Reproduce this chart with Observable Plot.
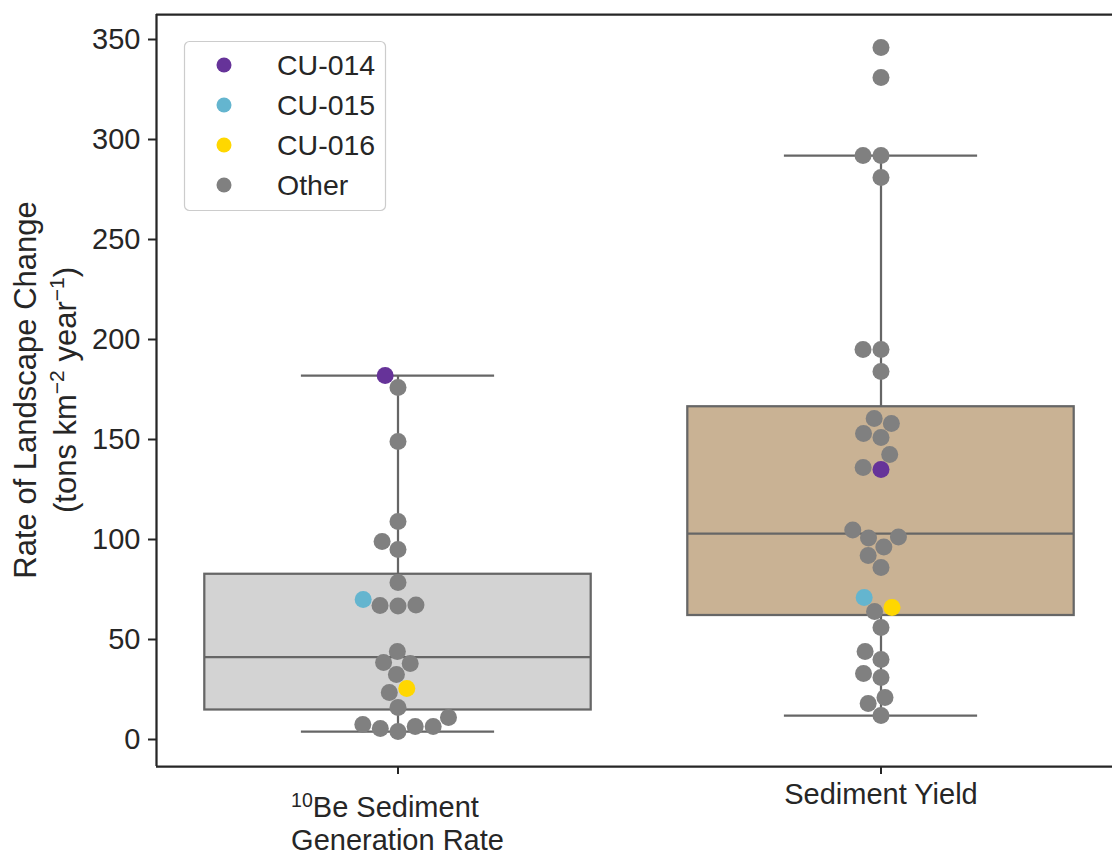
<!DOCTYPE html>
<html><head><meta charset="utf-8">
<script src="https://cdn.jsdelivr.net/npm/d3@7"></script>
<script src="https://cdn.jsdelivr.net/npm/@observablehq/plot@0.6"></script>
<style>
html,body{margin:0;padding:0;background:#fff;overflow:hidden;}
#chart{position:relative;width:1112px;height:855px;overflow:hidden;}
#chart svg{display:block;max-width:none !important;}
g[aria-label="y-axis tick"], g[aria-label="fx-axis tick"]{stroke-width:2px;}
</style></head><body><div id="chart"></div>
<script>
// ---------------- data ----------------
const categories = ["10Be Sediment Generation Rate", "Sediment Yield"];
const tickLabels = ["10Be Sediment\nGeneration Rate", "Sediment Yield"];
const boxFills = ["#d3d3d3", "#c9b294"];

const sites = ["CU-014", "CU-015", "CU-016", "Other"];
const siteColors = ["#663399", "#64b5cf", "#ffd700", "#808080"];

const beValues = [182, 176, 149, 109, 99, 95, 78.5, 70, 67.2, 67, 66.8, 44, 38.5, 38, 32.5, 25.5, 23.5, 16, 11, 7.5, 6.5, 6.5, 5.5, 4];
const beSites  = ["CU-014","Other","Other","Other","Other","Other","Other","CU-015","Other","Other","Other","Other","Other","Other","Other","CU-016","Other","Other","Other","Other","Other","Other","Other","Other"];

const yieldValues = [346, 331, 292, 292, 281, 195, 195, 184, 160.5, 158, 153, 151, 142.5, 136, 135, 104.8, 101.2, 100.7, 96.2, 92, 86, 71, 66, 64, 56, 44, 40, 33, 31, 21, 18, 12];
const yieldSites  = ["Other","Other","Other","Other","Other","Other","Other","Other","Other","Other","Other","Other","Other","Other","CU-014","Other","Other","Other","Other","Other","Other","CU-015","CU-016","Other","Other","Other","Other","Other","Other","Other","Other","Other"];

const yDomain = [-13.5, 362.5];
const yTicks = [0, 50, 100, 150, 200, 250, 300, 350];

// ---------------- layout ----------------
const W = 1122, H = 855, mTop = 14, mBottom = 89, mLeft = 155, mRight = 0;
const fxRange = [mLeft, W - mRight];
const yRange = [H - mBottom, mTop];
const bandPx = (fxRange[1] - fxRange[0]) / categories.length;
const dotR = 8.5, layoutR = 8.57;

// seaborn-style beeswarm: offsets (px) from the category centre
const yPx = d3.scaleLinear(yDomain, yRange);
function swarm(vals) {
  const order = d3.range(vals.length).sort((a, b) => vals[a] - vals[b] || a - b);
  const placed = [], off = new Array(vals.length);
  for (const i of order) {
    const y = -yPx(vals[i]);
    const nb = [];
    for (let k = placed.length - 1; k >= 0; --k) {
      if (y - placed[k].y < 2 * layoutR) nb.push(placed[k]); else break;
    }
    const cands = [0];
    let leftFirst = true;
    for (const p of nb) {
      const dy = y - p.y;
      const dx = Math.sqrt(Math.max(4 * layoutR * layoutR - dy * dy, 0)) * 1.05;
      if (leftFirst) cands.push(p.x - dx, p.x + dx); else cands.push(p.x + dx, p.x - dx);
      leftFirst = !leftFirst;
    }
    const ord = d3.range(cands.length).sort((a, b) => Math.abs(cands[a]) - Math.abs(cands[b]) || a - b);
    let x = 0;
    for (const k of ord) {
      const c = cands[k];
      if (nb.every(p => (p.x - c) ** 2 + (p.y - y) ** 2 >= 4 * layoutR * layoutR - 1e-6)) { x = c; break; }
    }
    placed.push({x, y});
    off[i] = x;
  }
  return off;
}
const beOff = swarm(beValues), yieldOff = swarm(yieldValues);

const points = [
  ...beValues.map((v, i) => ({cat: categories[0], value: v, site: beSites[i], pos: 0.5 + beOff[i] / bandPx})),
  ...yieldValues.map((v, i) => ({cat: categories[1], value: v, site: yieldSites[i], pos: 0.5 + yieldOff[i] / bandPx}))
];

function boxStats(cat, vals) {
  const s = vals.slice().sort(d3.ascending);
  const q1 = d3.quantileSorted(s, 0.25), med = d3.quantileSorted(s, 0.5), q3 = d3.quantileSorted(s, 0.75);
  const iqr = q3 - q1;
  const lo = d3.min(s.filter(v => v >= q1 - 1.5 * iqr));
  const hi = d3.max(s.filter(v => v <= q3 + 1.5 * iqr));
  return {cat, q1, med, q3, lo, hi};
}
const stats = [boxStats(categories[0], beValues), boxStats(categories[1], yieldValues)];

const ink = "#262626", boxLine = "#666666";

const plot = Plot.plot({
  width: W, height: H,
  marginTop: mTop, marginBottom: mBottom, marginLeft: mLeft, marginRight: mRight,
  facet: {marginTop: 0, marginBottom: 0, marginLeft: 0, marginRight: 0},
  style: {fontFamily: "'Liberation Sans', Arial, sans-serif", fontSize: "29px", color: ink, background: "#fff", overflow: "visible", maxWidth: "none"},
  fx: {domain: categories, range: fxRange, padding: 0, label: null, axis: "bottom", tickSize: 8, tickPadding: 9,
       tickFormat: d => tickLabels[categories.indexOf(d)]},
  x: {domain: [0, 1], axis: null},
  y: {domain: yDomain, range: yRange, ticks: yTicks, tickSize: 8, tickPadding: 8, label: null},
  color: {domain: sites, range: siteColors},
  marks: [
    ...stats.map((s, i) => Plot.rect([s], {fx: "cat", x1: 0.1, x2: 0.9, y1: "q1", y2: "q3", fill: boxFills[i], stroke: boxLine, strokeWidth: 2.25})),
    Plot.ruleX(stats, {fx: "cat", x: 0.5, y1: "q3", y2: "hi", stroke: boxLine, strokeWidth: 2.25}),
    Plot.ruleX(stats, {fx: "cat", x: 0.5, y1: "lo", y2: "q1", stroke: boxLine, strokeWidth: 2.25}),
    Plot.ruleY(stats, {fx: "cat", y: "hi", x1: 0.3, x2: 0.7, stroke: boxLine, strokeWidth: 2.25}),
    Plot.ruleY(stats, {fx: "cat", y: "lo", x1: 0.3, x2: 0.7, stroke: boxLine, strokeWidth: 2.25}),
    Plot.ruleY(stats, {fx: "cat", y: "med", x1: 0.1, x2: 0.9, stroke: boxLine, strokeWidth: 2.25}),
    Plot.dot(points, {fx: "cat", x: "pos", y: "value", r: dotR, fill: "site", stroke: null}),
    Plot.ruleY([yDomain[0]], {stroke: ink, strokeWidth: 2.25}),
    Plot.ruleY([yDomain[1]], {stroke: ink, strokeWidth: 2.25}),
    Plot.ruleX([0], {fx: () => categories[0], y1: yDomain[0], y2: yDomain[1], stroke: ink, strokeWidth: 2.25})
  ]
});
document.getElementById("chart").appendChild(plot);

// ---------------- text post-processing ----------------
const svg = d3.select(plot);
const ySc = plot.scale("y"), fxSc = plot.scale("fx");
const yBottom = ySc.apply(yDomain[0]);
const yMid = (ySc.apply(yDomain[0]) + ySc.apply(yDomain[1])) / 2;

// superscript in first category tick label (lines left-aligned, block centred)
svg.selectAll("text").each(function () {
  const t = d3.select(this);
  if (this.textContent.indexOf("Be Sediment") < 0) return;
  const cx = fxSc.apply(categories[0]) + fxSc.bandwidth / 2;
  const m = this.parentNode.getCTM ? this.parentNode.getCTM() : null;
  const ox = m ? m.e : 0, oy = m ? m.f : 0;
  t.selectAll("*").remove();
  t.text(null).attr("y", null).attr("dy", null)
    .attr("transform", `translate(${cx - ox},${yBottom - oy})`)
    .attr("text-anchor", "start");
  const l1 = t.append("tspan").attr("x", 0).attr("y", 51);
  l1.append("tspan").attr("font-size", 19.5).attr("dy", -10).text("10");
  l1.append("tspan").attr("dy", 10).text("Be Sediment");
  const l2x = t.append("tspan").attr("x", 0).attr("y", 84).text("Generation Rate");
  const w = l2x.node().getComputedTextLength();
  l1.attr("x", -w / 2);
  l2x.attr("x", -w / 2);
});

// y-axis title
const yl = svg.append("text")
  .attr("transform", `translate(0,${yMid}) rotate(-90)`)
  .attr("text-anchor", "middle").attr("fill", ink)
  .attr("font-size", 31);
yl.append("tspan").attr("x", 0).attr("y", 36).text("Rate of Landscape Change");
const l2 = yl.append("tspan").attr("x", 0).attr("y", 76);
l2.append("tspan").text("(tons km");
l2.append("tspan").attr("font-size", 21).attr("dy", -12).text("\u22122");
l2.append("tspan").attr("dy", 12).text(" year");
l2.append("tspan").attr("font-size", 21).attr("dy", -12).text("\u22121");
l2.append("tspan").attr("dy", 12).text(")");

// legend
const lg = svg.append("g").attr("transform", "translate(184.5,41.5)");
lg.append("rect").attr("width", 201).attr("height", 169).attr("rx", 5)
  .attr("fill", "#fff").attr("fill-opacity", 0.8).attr("stroke", "#cccccc").attr("stroke-width", 1.2);
sites.forEach((s, i) => {
  const g = lg.append("g").attr("transform", `translate(0,${23.5 + 40 * i})`);
  g.append("circle").attr("cx", 39.5).attr("r", 7.5).attr("fill", siteColors[i]);
  g.append("text").attr("x", 92.5).attr("dy", "0.36em").attr("text-anchor", "start")
    .attr("fill", ink).attr("font-size", 28.5).text(s);
});
</script></body></html>
